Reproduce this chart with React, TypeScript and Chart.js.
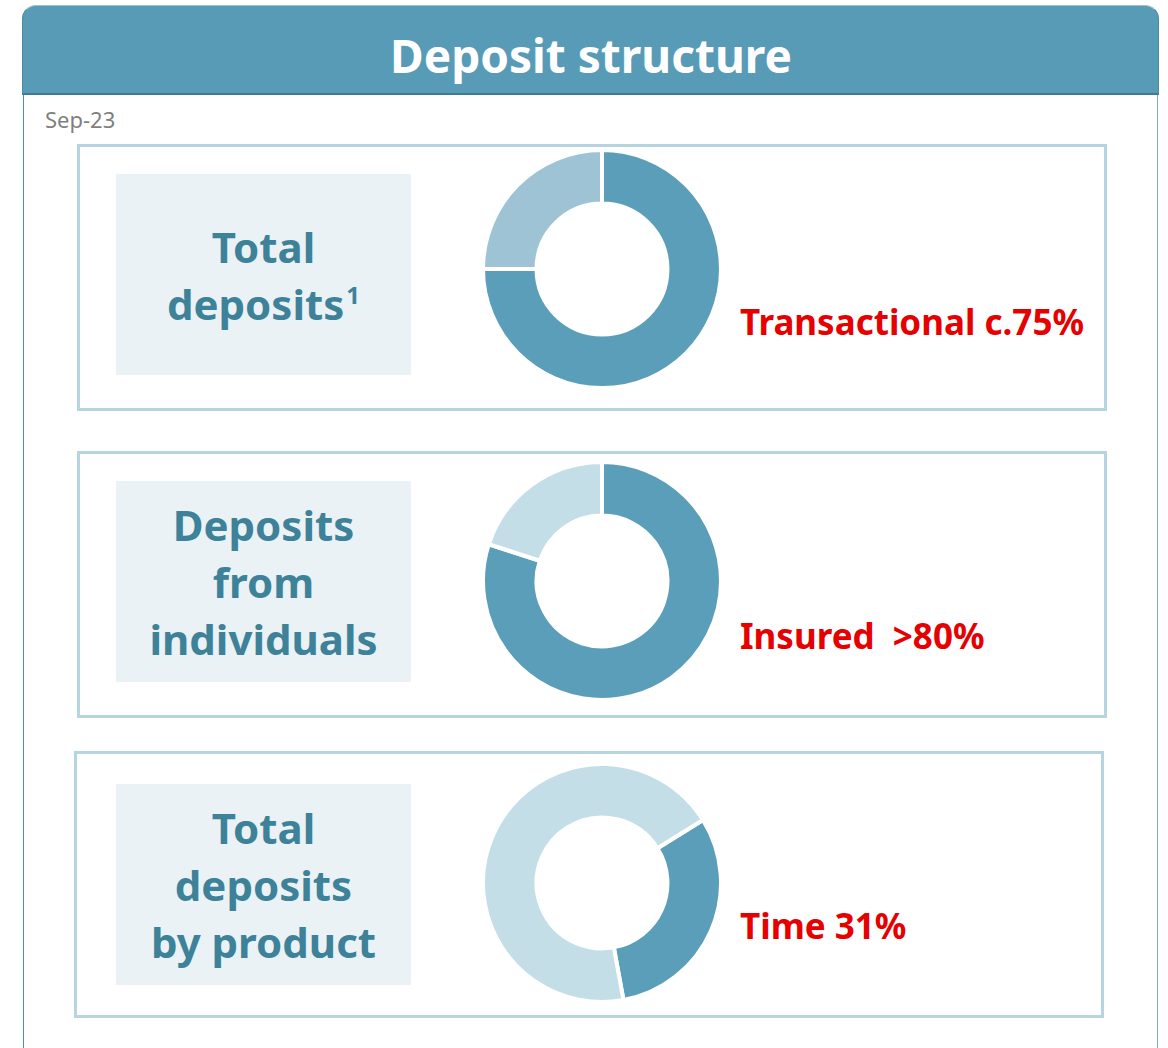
import React, { useEffect, useRef } from "react";
import { Chart, registerables } from "chart.js";

Chart.register(...registerables);

// ---------- data ----------
const TITLE = "Deposit structure";
const DATE_LABEL = "Sep-23";

const panel1Label = ["Total", "deposits"];
const panel2Label = ["Deposits", "from", "individuals"];
const panel3Label = ["Total", "deposits", "by product"];

const totalCategories = ["Transactional", "Other"];
const totalValues = [75, 25];

const individualsCategories = ["Insured", "Uninsured"];
const individualsValues = [80, 20];

const productCategories = ["Time", "Other"];
const productValues = [31, 69];

const highlight1 = "Transactional c.75%";
const highlight2 = "Insured\u00a0\u00a0>80%";
const highlight3 = "Time 31%";

// ---------- styles ----------
const FONT = "'Noto Sans', 'Open Sans', sans-serif";
const DARK = "#5b9eb9";
const LIGHT1 = "#9dc3d4";
const LIGHT2 = "#c4dee7";
const LABEL_COLOR = "#3d8299";
const RED = "#e60000";

type DonutProps = {
  labels: string[];
  values: number[];
  colors: string[];
  rotation: number;
  left: number;
  top: number;
};

function Donut({ labels, values, colors, rotation, left, top }: DonutProps) {
  const ref = useRef<HTMLCanvasElement | null>(null);
  useEffect(() => {
    if (!ref.current) return;
    const chart = new Chart(ref.current, {
      type: "doughnut",
      data: {
        labels,
        datasets: [
          {
            data: values,
            backgroundColor: colors,
            borderColor: "#ffffff",
            borderWidth: 4,
            hoverOffset: 0,
          },
        ],
      },
      options: {
        responsive: false,
        animation: false,
        rotation,
        cutout: "55%",
        layout: { padding: 0 },
        plugins: {
          legend: { display: false },
          tooltip: { enabled: false },
          title: { display: false },
        },
        events: [],
      },
    });
    return () => chart.destroy();
  }, []);
  return (
    <canvas
      ref={ref}
      width={242}
      height={242}
      style={{ position: "absolute", left, top, width: 242, height: 242 }}
    />
  );
}

function LabelBox({ lines, top, sup }: { lines: string[]; top: number; sup?: string }) {
  return (
    <div
      style={{
        position: "absolute",
        left: 116,
        top,
        width: 295,
        height: 201,
        background: "#eaf2f6",
        display: "flex",
        flexDirection: "column",
        justifyContent: "center",
        alignItems: "center",
        color: LABEL_COLOR,
        fontFamily: FONT,
        fontWeight: 700,
        fontSize: 42,
        lineHeight: "57px",
        textAlign: "center",
      }}
    >
      {lines.map((l, i) => (
        <div key={i} style={{ whiteSpace: "nowrap" }}>
          {l}
          {sup && i === lines.length - 1 ? (
            <span style={{ fontSize: 24, verticalAlign: "top", lineHeight: "40px", marginLeft: 2 }}>{sup}</span>
          ) : null}
        </div>
      ))}
    </div>
  );
}

function Panel({ left, top }: { left: number; top: number }) {
  return (
    <div
      style={{
        position: "absolute",
        left,
        top,
        width: 1030,
        height: 267,
        boxSizing: "border-box",
        border: "3px solid #b7d5e0",
      }}
    />
  );
}

function RedText({ text, baseline }: { text: string; baseline: number }) {
  return (
    <div
      style={{
        position: "absolute",
        left: 740,
        top: baseline - 31,
        height: 35,
        lineHeight: "35px",
        fontSize: 35,
        fontFamily: FONT,
        fontWeight: 700,
        color: RED,
        whiteSpace: "nowrap",
      }}
    >
      {text}
    </div>
  );
}

export default function App() {
  return (
    <div
      style={{
        position: "absolute",
        left: 0,
        top: 0,
        width: 1168,
        height: 1048,
        background: "#ffffff",
        overflow: "hidden",
        fontFamily: FONT,
      }}
    >
      {/* outer frame lines */}
      <div style={{ position: "absolute", left: 23, top: 90, width: 1, height: 960, background: "#4f8ea5" }} />
      <div style={{ position: "absolute", left: 1157, top: 90, width: 1, height: 960, background: "#7db3c4" }} />
      {/* header */}
      <div
        style={{
          position: "absolute",
          left: 22,
          top: 5,
          width: 1137,
          height: 90,
          boxSizing: "border-box",
          background: "#589bb6",
          borderRadius: "14px 14px 0 0",
          borderBottom: "2px solid #3f7c92",
          borderTop: "1px solid #9fc3d1",
          borderLeft: "1px solid #4d8aa0",
          borderRight: "1px solid #4d8aa0",
        }}
      />
      <div
        style={{
          position: "absolute",
          left: 0,
          width: 1182,
          top: 32,
          height: 46,
          lineHeight: "46px",
          textAlign: "center",
          color: "#ffffff",
          fontWeight: 700,
          fontSize: 46,
          fontFamily: FONT,
        }}
      >
        {TITLE}
      </div>
      <div
        style={{
          position: "absolute",
          left: 45,
          top: 108,
          height: 22,
          lineHeight: "22px",
          fontSize: 22,
          color: "#7f7f7f",
          fontFamily: FONT,
        }}
      >
        {DATE_LABEL}
      </div>

      <Panel left={77} top={144} />
      <Panel left={77} top={451} />
      <Panel left={74} top={751} />

      <LabelBox lines={panel1Label} top={174} sup="1" />
      <LabelBox lines={panel2Label} top={481} />
      <LabelBox lines={panel3Label} top={784} />

      <Donut labels={totalCategories} values={totalValues} colors={[DARK, LIGHT1]} rotation={0} left={481} top={148} />
      <Donut labels={individualsCategories} values={individualsValues} colors={[DARK, LIGHT2]} rotation={0} left={481} top={460} />
      <Donut labels={productCategories} values={productValues} colors={[DARK, LIGHT2]} rotation={58} left={481} top={762} />

      <RedText text={highlight1} baseline={335} />
      <RedText text={highlight2} baseline={649} />
      <RedText text={highlight3} baseline={939} />
    </div>
  );
}
